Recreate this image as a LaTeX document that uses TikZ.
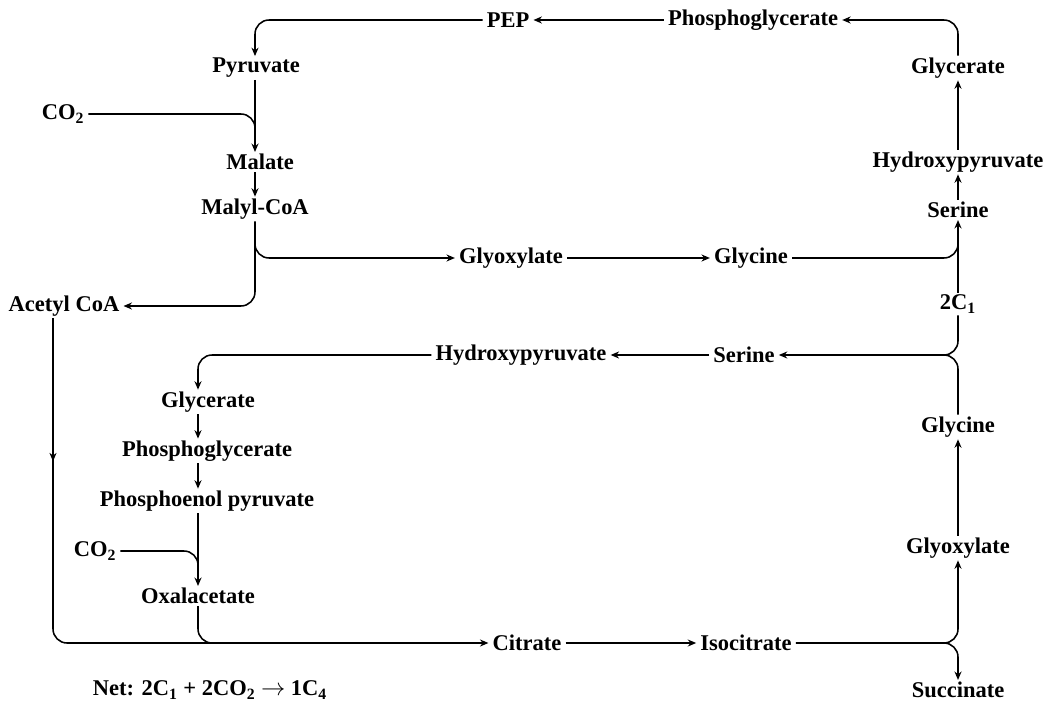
\documentclass[tikz,border=0pt]{standalone}
\usepackage{fontspec}
\setmainfont{Liberation Serif}
\usepackage{tikz}
\usetikzlibrary{arrows.meta, decorations.markings}
\tikzstyle{met} = [inner xsep=3pt, inner ysep=1.5pt, outer sep=0pt, font=\fontsize{16}{18}\selectfont\bfseries]
\tikzstyle{line} = [line width=1.1pt]
\tikzstyle{arrow} = [line width=1.1pt,-{Stealth[length=6pt,width=5pt]}]
\tikzstyle{midarrow} = [postaction={decorate},
decoration={markings, mark=at position 0.19 with {\arrow{Stealth[length=6pt,width=5pt]}}}]

\begin{document}
\begin{tikzpicture}[x=0.025cm, y=-0.025cm]
\useasboundingbox (0,0) rectangle (1051,702);

% upper cycle
\node (pep) [met] at (508,20) {PEP};
\node (phg1) [met] at (753,20) {Phosphoglycerate};
\node (pyr) [met] at (256,68) {Pyruvate};
\node (co2a) [met] at (63,114) {CO\textsubscript{2}};
\node (mal) [met] at (260,162) {Malate};
\node (malcoa) [met] at (255,209) {Malyl-CoA};
\node (acoa) [met] at (64,306) {Acetyl CoA};
\node (glx1) [met] at (511,258) {Glyoxylate};
\node (gly1) [met] at (751,258) {Glycine};
\node (glc1) [met] at (958,68) {Glycerate};
\node (hyd1) [met] at (958,162) {Hydroxypyruvate};
\node (ser1) [met] at (958,210) {Serine};
\node (c1) [met] at (958,304) {2C\textsubscript{1}};

% lower cycle
\node (hyd2) [met] at (521,355) {Hydroxypyruvate};
\node (ser2) [met] at (744,355) {Serine};
\node (glc2) [met] at (208,402) {Glycerate};
\node (phg2) [met] at (207,451) {Phosphoglycerate};
\node (pep2) [met] at (207,501) {Phosphoenol pyruvate};
\node (co2b) [met] at (95,551) {CO\textsubscript{2}};
\node (oxa) [met] at (198,596) {Oxalacetate};
\node (cit) [met] at (527,643) {Citrate};
\node (iso) [met] at (746,643) {Isocitrate};
\node (gly2) [met] at (958,427) {Glycine};
\node (glx2) [met] at (958,548) {Glyoxylate};
\node (suc) [met] at (958,690) {Succinate};
\node (net) [met] at (210,690) {Net: 2C\textsubscript{1} + 2CO\textsubscript{2} $\rightarrow$ 1C\textsubscript{4}};

\coordinate (j1) at (255,134);
\coordinate (j2) at (255,236);
\coordinate (j3) at (958,236);
\coordinate (j4) at (930,355);
\coordinate (j5) at (198,572);
\coordinate (j6) at (53,318);
\coordinate (j7) at (300,643);
\coordinate (j8) at (930,643);

\draw [arrow] (phg1) -- (pep);
\draw [arrow, rounded corners=10pt] (glc1.north) |- (phg1.east);
\draw [arrow, rounded corners=10pt] (pep.west) -| (pyr.north -| j1);
\draw [arrow] (pyr.south -| j1) -- (mal.north -| j1);
\draw [line, rounded corners=10pt] (co2a.east) -| (j1);
\draw [arrow] (mal.south -| j1) -- (malcoa.north -| j1);
\draw [arrow, rounded corners=10pt] (malcoa.south) |- (acoa.east);
\draw [arrow, rounded corners=10pt] (j2) |- (glx1.west);
\draw [arrow] (glx1) -- (gly1);
\draw [line, rounded corners=10pt] (gly1.east) -| (j3);
\draw [arrow] (c1) -- (ser1);
\draw [arrow] (ser1) -- (hyd1);
\draw [arrow] (hyd1) -- (glc1);

\draw [arrow, rounded corners=10pt] (c1.south) |- (ser2.east);
\draw [line, rounded corners=10pt] (gly2.north) |- (j4);
\draw [arrow] (ser2) -- (hyd2);
\draw [arrow, rounded corners=10pt] (hyd2.west) -| (glc2.north -| oxa);
\draw [arrow] (glc2.south -| oxa) -- (phg2.north -| oxa);
\draw [arrow] (phg2.south -| oxa) -- (pep2.north -| oxa);
\draw [arrow] (pep2.south -| oxa) -- (oxa.north);
\draw [line, rounded corners=10pt] (co2b.east) -| (j5);
\draw [arrow, midarrow, rounded corners=10pt] (j6) |- (cit.west);
\draw [line, rounded corners=10pt] (oxa.south) |- (j7);
\draw [arrow] (cit) -- (iso);
\draw [arrow, rounded corners=10pt] (iso.east) -| (glx2.south);
\draw [arrow, rounded corners=10pt] (j8) -| (suc.north);
\draw [arrow] (glx2) -- (gly2);

\end{tikzpicture}
\end{document}
